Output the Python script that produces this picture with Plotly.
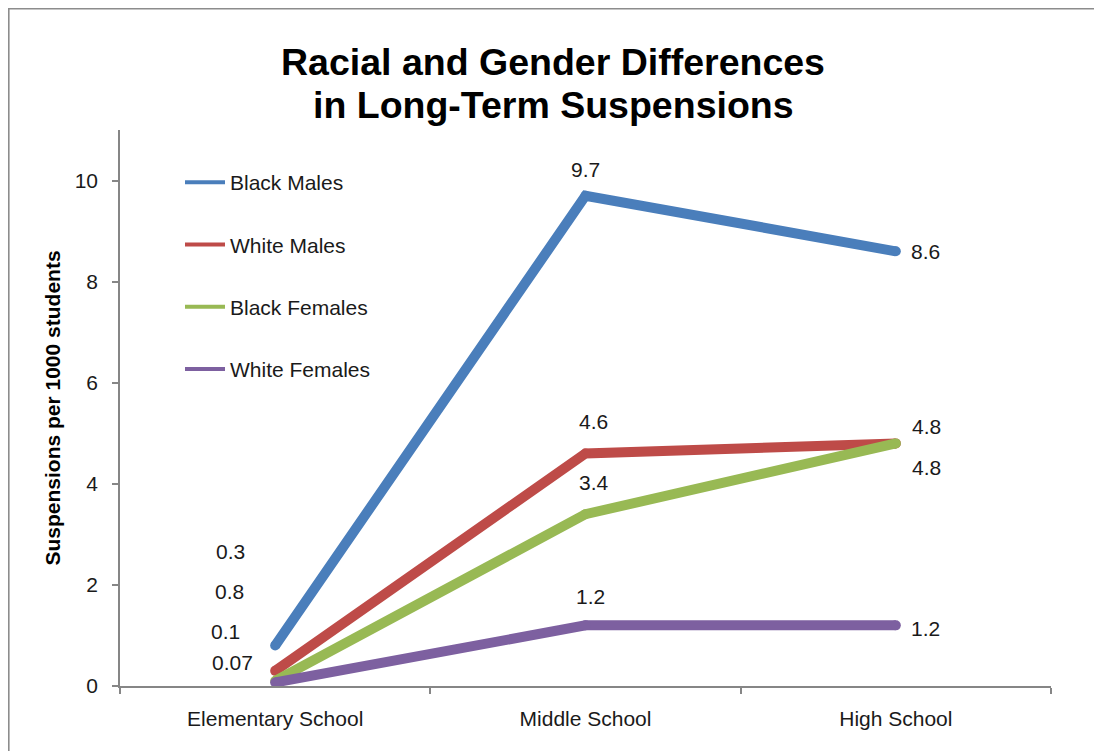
import plotly.graph_objects as go

categories = ["Elementary School", "Middle School", "High School"]
series_names = ["Black Males", "White Males", "Black Females", "White Females"]
black_males = [0.8, 9.7, 8.6]
white_males = [0.3, 4.6, 4.8]
black_females = [0.1, 3.4, 4.8]
white_females = [0.07, 1.2, 1.2]
value_labels = [
    ["0.8", "9.7", "8.6"],
    ["0.3", "4.6", "4.8"],
    ["0.1", "3.4", "4.8"],
    ["0.07", "1.2", "1.2"],
]
y_ticks = [0, 2, 4, 6, 8, 10]
title_lines = ["Racial and Gender Differences", "in Long-Term Suspensions"]

colors = ["#4A7EBB", "#BE4B48", "#98B954", "#7D60A0"]
# label offsets in pixels (xshift, yshift) per series per category
label_offsets = [
    [(-46, 54), (0, 26), (30, 0)],
    [(-45, 119), (8, 32), (31, 17)],
    [(-50, 49), (8, 32), (31, -24)],
    [(-43, 20), (5, 29), (30, -3)],
]

FONT = "Liberation Sans, Arial, Helvetica, sans-serif"
all_series = [black_males, white_males, black_females, white_females]

# The page has an 8px body margin; layout below is in figure pixels.
W, H = 1094, 743
PL, PT, PR, PB = 112, 122, 1043, 678  # plot area in figure pixels
PW, PH = PR - PL, PB - PT


def px_x(fx):
    return (fx - PL) / PW


def px_y(fy):
    return (PB - fy) / PH


fig = go.Figure()
for i, (name, vals) in enumerate(zip(series_names, all_series)):
    fig.add_trace(go.Scatter(
        x=categories, y=vals, mode="lines+markers", name=name,
        line=dict(color=colors[i], width=10),
        marker=dict(color=colors[i], size=10, line=dict(width=0)),
        showlegend=False, legendgroup=name, hoverinfo="x+y+name",
    ))
for i, name in enumerate(series_names):
    fig.add_trace(go.Scatter(
        x=[None], y=[None], mode="lines", name=name,
        line=dict(color=colors[i], width=4),
        legendgroup=name, showlegend=True,
    ))

annotations = []
for i, vals in enumerate(all_series):
    for j, v in enumerate(vals):
        dx, dy = label_offsets[i][j]
        annotations.append(dict(
            x=categories[j], y=v, xref="x", yref="y", text=value_labels[i][j],
            showarrow=False, xshift=dx, yshift=dy,
            font=dict(family=FONT, size=21, color="#1a1a1a"),
        ))
# second title line
annotations.append(dict(
    x=px_x(545), y=px_y(97), xref="paper", yref="paper",
    xanchor="center", yanchor="middle", showarrow=False,
    text="<b>" + title_lines[1] + "</b>",
    font=dict(family=FONT, size=37.5, color="#000000"),
))

fig.update_layout(
    width=W, height=H,
    paper_bgcolor="white", plot_bgcolor="white",
    margin=dict(l=PL, r=W - PR, t=PT, b=H - PB, autoexpand=False),
    title=dict(
        text="<b>" + title_lines[0] + "</b>",
        x=545 / W, xanchor="center", xref="container",
        y=1 - 54 / H, yanchor="middle", yref="container",
        font=dict(family=FONT, size=37.5, color="#000000"),
    ),
    font=dict(family=FONT, size=21, color="#1a1a1a"),
    showlegend=True,
    legend=dict(
        x=px_x(172), xanchor="left",
        y=px_y(154), yanchor="top",
        bgcolor="rgba(0,0,0,0)", borderwidth=0,
        font=dict(family=FONT, size=21, color="#1a1a1a"),
        tracegroupgap=32, itemwidth=40,
    ),
    annotations=annotations,
    shapes=[dict(
        type="rect", xref="paper", yref="paper",
        x0=px_x(0.8), x1=px_x(1110),
        y0=px_y(760), y1=px_y(0.8),
        line=dict(color="#8c8c8c", width=1.6), fillcolor="rgba(0,0,0,0)",
        layer="below",
    )],
)

fig.update_xaxes(
    type="category", categoryorder="array", categoryarray=categories,
    range=[-0.5, 2.5], tickson="boundaries",
    showline=True, linecolor="#868686", linewidth=1.5,
    ticks="outside", ticklen=6, tickcolor="#868686", tickwidth=1.5,
    showgrid=False, zeroline=False,
    tickfont=dict(family=FONT, size=21, color="#1a1a1a"),
    ticklabelstandoff=13,
)
fig.update_yaxes(
    range=[0, 11], tickvals=y_ticks, ticktext=[str(t) for t in y_ticks],
    showline=True, linecolor="#868686", linewidth=1.5,
    ticks="outside", ticklen=6, tickcolor="#868686", tickwidth=1.5,
    showgrid=False, zeroline=False,
    tickfont=dict(family=FONT, size=21, color="#1a1a1a"),
    ticklabelstandoff=10,
    title=dict(text="<b>Suspensions per 1000 students</b>", standoff=8,
               font=dict(family=FONT, size=21, color="#000000")),
)

fig.write_html("out.html")
